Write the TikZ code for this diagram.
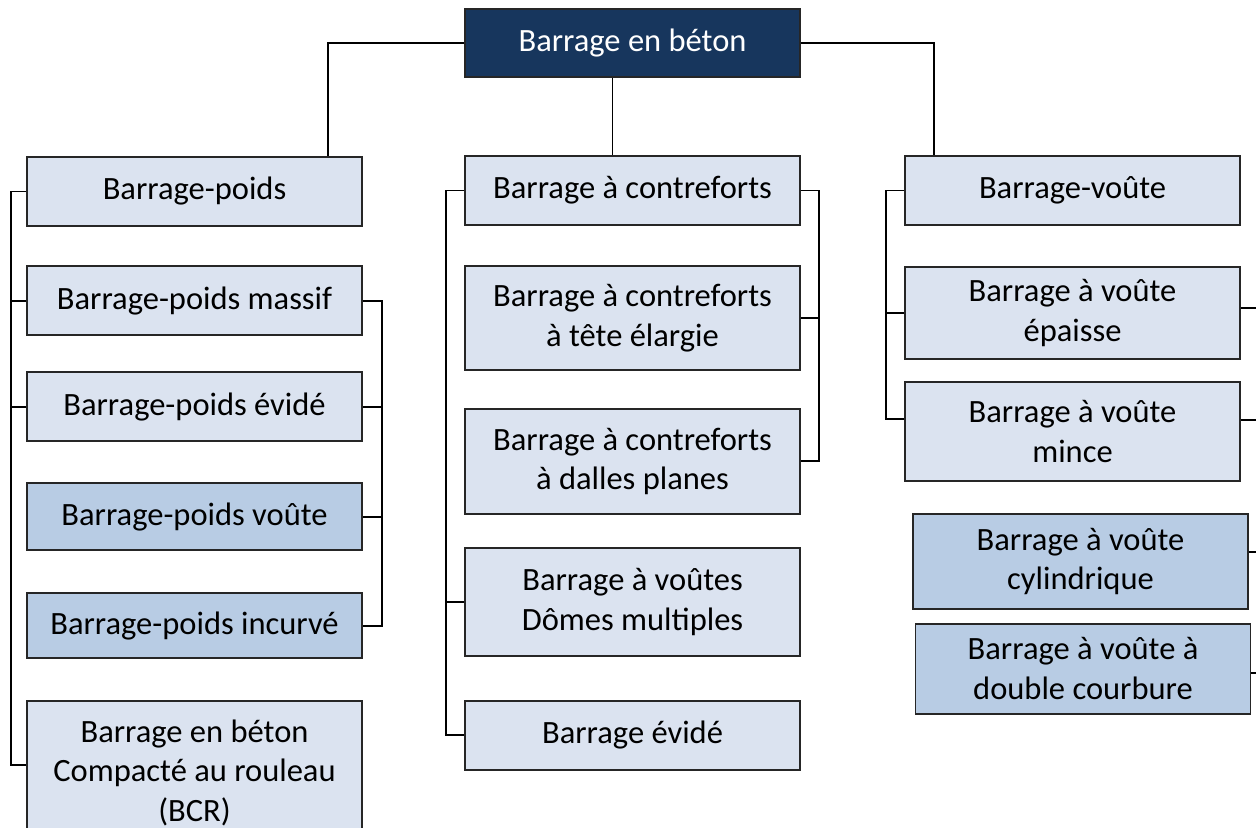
\documentclass[tikz,border=0pt]{standalone}
\usepackage{fontspec}
\setmainfont{Carlito}
\usetikzlibrary{positioning}
\definecolor{rootblue}{HTML}{17365D}
\definecolor{paleblue}{HTML}{DBE3F0}
\definecolor{midblue}{HTML}{B8CCE4}

\begin{document}
\begin{tikzpicture}
    \tikzset{
        catbox/.style = {rectangle, draw=black!85, line width=1.1pt, fill=paleblue, minimum width=6.7cm, minimum height=1.38cm, align=center, inner sep=2pt, font=\fontsize{18.5}{22.5}\selectfont},
        darkbox/.style = {catbox, fill=midblue},
        rootbox/.style = {catbox, fill=rootblue, text=white},
        link/.style = {draw, line width=1.1pt}
    }
    \useasboundingbox (0,0) rectangle (25.12,-16.54);

    % root and the three families
    \node[rootbox, minimum height=1.36cm] (beton) at (12.65,-0.86) {Barrage en béton};
    \node[catbox, line width=1.6pt] (poids) at (3.89,-3.83) {Barrage-poids};
    \node[catbox] (contreforts) at (12.65,-3.81) {Barrage à contreforts};
    \node[catbox] (voute) at (21.45,-3.81) {Barrage-voûte};

    % barrages-poids
    \node[catbox, below=0.76cm of poids] (massif) {Barrage-poids massif};
    \node[catbox, below=0.7cm of massif] (pevide) {Barrage-poids évidé};
    \node[darkbox, below=0.8cm of pevide, minimum height=1.34cm] (pvoute) {Barrage-poids voûte};
    \node[darkbox, below=0.82cm of pvoute, minimum height=1.3cm] (incurve) {Barrage-poids incurvé};
    \node[catbox, below=0.82cm of incurve, minimum height=2.86cm] (bcr) {Barrage en béton\\Compacté au rouleau\\(BCR)};

    % barrages a contreforts
    \node[catbox, below=0.78cm of contreforts, minimum height=2.08cm] (tete) {Barrage à contreforts\\à tête élargie};
    \node[catbox, below=0.74cm of tete, minimum height=2.1cm] (dalles) {Barrage à contreforts\\à dalles planes};
    \node[catbox, below=0.64cm of dalles, minimum height=2.16cm] (domes) {Barrage à voûtes\\Dômes multiples};
    \node[catbox, below=0.86cm of domes] (cevide) {Barrage évidé};

    % barrages-voute
    \node[catbox, below=0.8cm of voute, minimum height=1.84cm] (epaisse) {Barrage à voûte\\épaisse};
    \node[catbox, below=0.42cm of epaisse, minimum height=1.98cm] (mince) {Barrage à voûte\\mince};
    \node[darkbox, below=0.62cm of mince, xshift=0.16cm, minimum height=1.9cm] (cylindre) {Barrage à voûte\\cylindrique};
    \node[darkbox, below=0.26cm of cylindre, xshift=0.05cm, minimum height=1.8cm] (courbure) {Barrage à voûte à\\double courbure};

    % links from the root
    \path[link] (beton.west) -| ([xshift=-0.7cm]poids.north east);
    \path[link] (beton.east) -| ([xshift=0.6cm]voute.north west);
    \path[link] ([xshift=-0.4cm]beton.south) -- ([xshift=-0.4cm]contreforts.north);

    % brackets
    \path[link] (poids.west) -- ++(-0.3,0) |- ([yshift=0.16cm]bcr.west);
    \foreach \n in {massif, pevide}
        \path[link] (\n.west) -- ++(-0.3,0);
    \path[link] (massif.east) -- ++(0.38,0) |- (incurve.east);
    \foreach \n in {pevide, pvoute}
        \path[link] (\n.east) -- ++(0.38,0);

    \path[link] (contreforts.west) -- ++(-0.36,0) |- (cevide.west);
    \path[link] (domes.west) -- ++(-0.36,0);
    \path[link] (contreforts.east) -- ++(0.36,0) |- (dalles.east);
    \path[link] (tete.east) -- ++(0.36,0);

    \path[link] (voute.west) -- ++(-0.36,0) |- ([yshift=0.24cm]mince.west);
    \path[link] (epaisse.west) -- ++(-0.36,0);
    \foreach \n/\dy in {epaisse/0.1, mince/0.23, cylindre/0.19, courbure/-0.08}
        \path[link] ([yshift=\dy cm]\n.east) -- ++(0.4,0);
\end{tikzpicture}
\end{document}
